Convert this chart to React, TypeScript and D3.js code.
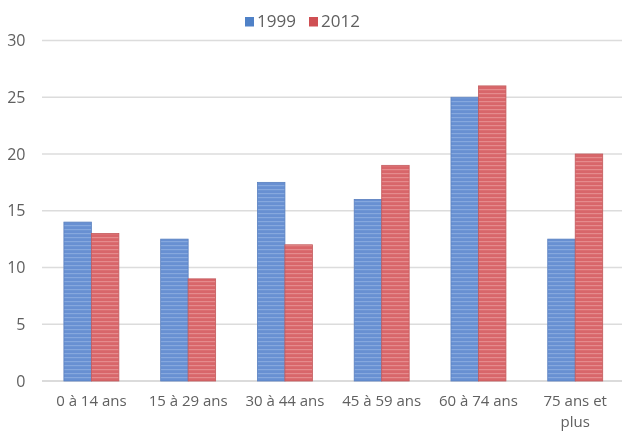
import React from "react";
import * as d3 from "d3";

// Age groups and shares (%) for the two survey years
const categories: string[][] = [
  ["0 à 14 ans"],
  ["15 à 29 ans"],
  ["30 à 44 ans"],
  ["45 à 59 ans"],
  ["60 à 74 ans"],
  ["75 ans et", "plus"],
];
const seriesNames = ["1999", "2012"];
const values1999 = [14, 12.5, 17.5, 16, 25, 12.5];
const values2012 = [13, 9, 12, 19, 26, 20];
const yTicks = [0, 5, 10, 15, 20, 25, 30];

const W = 622;
const H = 432;
const plotLeft = 43;
const plotRight = 623.6;
const plotTop = 40.5;
const plotBottom = 381;

const seriesColors = [
  { base: "#6790d2", stripe: "#93b3e3", edge: "#5a80c0", key: "#4f81c7" },
  { base: "#d8666a", stripe: "#eb9b9c", edge: "#c45a5c", key: "#cf4f52" },
];

export default function App() {
  const x0 = d3
    .scaleBand<number>()
    .domain(categories.map((_, i) => i))
    .range([plotLeft, plotRight])
    .paddingInner(0.432)
    .paddingOuter(0.216);
  const x1 = d3
    .scaleBand<number>()
    .domain([0, 1])
    .range([0, x0.bandwidth()]);
  const y = d3.scaleLinear().domain([0, 30]).range([plotBottom, plotTop]);

  const series = [values1999, values2012];
  const font = "'Open Sans', 'Noto Sans', sans-serif";
  const textColor = "#606060";

  return (
    <svg
      width={W}
      height={H}
      style={{ position: "absolute", left: 0, top: 0, background: "#fff" }}
    >
      <defs>
        {seriesColors.map((c, i) => (
          <pattern
            key={i}
            id={`stripes-${i}`}
            width={6}
            height={4}
            patternUnits="userSpaceOnUse"
          >
            <rect width={6} height={4} fill={c.base} />
            <rect y={1} width={6} height={1.2} fill={c.stripe} opacity={0.7} />
          </pattern>
        ))}
        <filter id="soft" x="-5%" y="-5%" width="110%" height="110%">
          <feGaussianBlur stdDeviation="0.45" />
        </filter>
      </defs>

      <g filter="url(#soft)">
        {/* horizontal gridlines */}
        {yTicks.map((t) => (
          <line
            key={t}
            x1={plotLeft - 1}
            x2={W}
            y1={y(t)}
            y2={y(t)}
            stroke={t === 0 ? "#cfcfcf" : "#dcdcdc"}
            strokeWidth={1.4}
          />
        ))}

        {/* y-axis labels */}
        {yTicks.map((t) => (
          <text
            key={t}
            x={25.5}
            y={y(t)}
            dy="0.35em"
            textAnchor="end"
            fontFamily={font}
            fontSize={16}
            fill={textColor}
          >
            {t}
          </text>
        ))}

        {/* bars */}
        {categories.map((_, ci) =>
          series.map((vals, si) => {
            const bx = (x0(ci) ?? 0) + (x1(si) ?? 0);
            const by = y(vals[ci]);
            return (
              <rect
                key={`${ci}-${si}`}
                x={bx}
                y={by}
                width={x1.bandwidth()}
                height={plotBottom - by}
                fill={`url(#stripes-${si})`}
                stroke={seriesColors[si].edge}
                strokeWidth={0.8}
              />
            );
          })
        )}

        {/* category labels */}
        {categories.map((lines, ci) => {
          const cx = (x0(ci) ?? 0) + x0.bandwidth() / 2;
          return (
            <text
              key={ci}
              x={cx}
              y={406}
              textAnchor="middle"
              fontFamily={font}
              fontSize={15}
              fill={textColor}
            >
              {lines.map((l, li) => (
                <tspan key={li} x={cx} dy={li === 0 ? 0 : 20.6}>
                  {l}
                </tspan>
              ))}
            </text>
          );
        })}

        {/* legend */}
        {seriesNames.map((name, i) => {
          const lx = 245 + i * 64;
          return (
            <g key={name}>
              <rect
                x={lx}
                y={17}
                width={9}
                height={9.5}
                fill={seriesColors[i].key}
              />
              <text
                x={lx + 12}
                y={21.5}
                dy="0.35em"
                fontFamily={font}
                fontSize={17}
                fill={textColor}
              >
                {name}
              </text>
            </g>
          );
        })}
      </g>
    </svg>
  );
}
